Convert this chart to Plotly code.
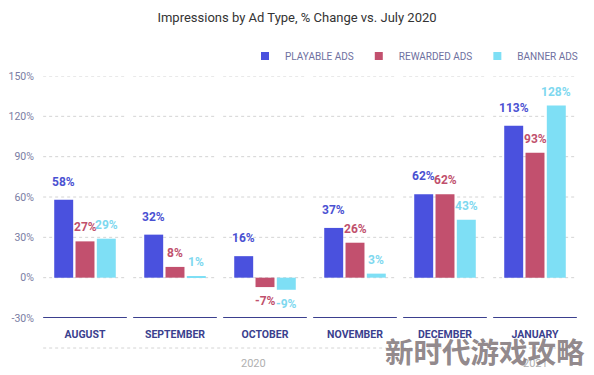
import plotly.graph_objects as go

months = ["AUGUST", "SEPTEMBER", "OCTOBER", "NOVEMBER", "DECEMBER", "JANUARY"]
playable = [58, 32, 16, 37, 62, 113]
rewarded = [27, 8, -7, 26, 62, 93]
banner = [29, 1, -9, 3, 43, 128]
series_names = ["PLAYABLE ADS", "REWARDED ADS", "BANNER ADS"]
y_ticks = [-30, 0, 30, 60, 90, 120, 150]
years = ["2020", "2021"]

bar_colors = ["#4a51de", "#c2506e", "#7edff5"]
text_colors = ["#4a51d2", "#c0506c", "#7ed8ef"]
label_shift = [9, 5, 5]
navy = "#3b3f8e"
BARGAP = 0.29
BARGROUPGAP = 0.11

# page body has an 8px margin: figure sits at (8, 8) in the window
OFF = 8
W, H = 594 - OFF, 375 - OFF
ML, MR, MT, MB = 40 - OFF, 14, 76 - OFF, 57
plot_w = W - ML - MR
plot_h = H - MT - MB

fig = go.Figure()
all_series = [playable, rewarded, banner]
for name, vals, col in zip(series_names, all_series, bar_colors):
    fig.add_trace(go.Bar(x=list(range(len(months))), y=vals, name=name,
                         marker=dict(color=col, line=dict(width=0)),
                         showlegend=False, hoverinfo="skip"))
# legend entries (small squares)
for name, col in zip(series_names, bar_colors):
    fig.add_trace(go.Scatter(x=[None], y=[None], mode="markers", name=name,
                             marker=dict(symbol="square", size=8, color=col)))

annotations = []
shapes = []
slot = (1 - BARGAP) / 3
for j, (vals, tcol) in enumerate(zip(all_series, text_colors)):
    for i, v in enumerate(vals):
        pos = v >= 0
        annotations.append(dict(
            x=i + (j - 1) * slot, y=v, xref="x", yref="y",
            text="<b>%d%%</b>" % v, showarrow=False,
            yanchor="bottom" if pos else "top",
            yshift=label_shift[j] if pos else -5,
            font=dict(size=12, color=tcol, family="Roboto")))

# per-category dotted grid segments and solid bottom underlines
for i in range(len(months)):
    for t in y_ticks:
        if t == y_ticks[0]:
            shapes.append(dict(type="line", xref="x", yref="y",
                               x0=i - 0.465, x1=i + 0.465, y0=t, y1=t,
                               line=dict(color=navy, width=2), layer="below"))
        else:
            shapes.append(dict(type="line", xref="x", yref="y",
                               x0=i - 0.465, x1=i + 0.465, y0=t, y1=t,
                               line=dict(color="#d4d4d4", width=1, dash="dot"),
                               layer="below"))

def py(ref_y):
    return (375 - MB - ref_y) / plot_h

def px(ref_x):
    return (ref_x - 40) / plot_w

# dotted line under category labels
shapes.append(dict(type="line", xref="x", yref="paper",
                   x0=-0.465, x1=len(months) - 1 + 0.465, y0=py(348), y1=py(348),
                   line=dict(color="#d4d4d4", width=1, dash="dot"), layer="below"))

annotations.append(dict(x=px(253), y=py(363), xref="paper", yref="paper", text=years[0],
                        showarrow=False, yanchor="middle",
                        font=dict(size=11, color="#b0b0b0", family="Roboto")))
annotations.append(dict(x=5, y=py(363), xref="x", yref="paper", text=years[1],
                        showarrow=False, yanchor="middle",
                        font=dict(size=11, color="#b0b0b0", family="Roboto")))

# watermark
annotations.append(dict(x=px(485), y=py(350), xref="paper", yref="paper",
                        text="<b>新时代游戏攻略</b>",
                        showarrow=False, xanchor="center", yanchor="middle",
                        font=dict(size=28.5, color="rgba(132,122,125,0.9)",
                                  family="Noto Sans CJK SC")))

fig.update_layout(
    width=W, height=H,
    margin=dict(l=ML, r=MR, t=MT, b=MB, autoexpand=False),
    paper_bgcolor="white", plot_bgcolor="white",
    barmode="group", bargap=BARGAP, bargroupgap=BARGROUPGAP,
    title=dict(text="Impressions by Ad Type, % Change vs. July 2020",
               x=0.5 - OFF / 2 / W, xanchor="center", y=1 - (17 - OFF) / H, yanchor="middle",
               font=dict(size=13, color="#333333", family="Roboto")),
    legend=dict(orientation="h", x=px(583), xanchor="right", y=py(56), yanchor="middle",
                font=dict(size=10, color="#6e70a0", family="Roboto"),
                itemwidth=30, bgcolor="rgba(0,0,0,0)"),
    xaxis=dict(tickmode="array", tickvals=list(range(len(months))),
               ticktext=["<b>%s</b>" % m for m in months],
               range=[-0.5, len(months) - 0.5], automargin=False,
               showgrid=False, zeroline=False, showline=False,
               ticks="outside", ticklen=6, tickcolor="rgba(0,0,0,0)",
               tickfont=dict(size=10.5, color=navy, family="Roboto")),
    yaxis=dict(range=[-30, 150], tickvals=y_ticks, automargin=False,
               ticktext=["%d%%" % t for t in y_ticks],
               showgrid=False, zeroline=False, showline=False,
               ticks="outside", ticklen=3, tickcolor="rgba(0,0,0,0)",
               tickfont=dict(size=10.5, color="#7a7ca3", family="Roboto")),
    annotations=annotations, shapes=shapes,
)

fig.write_html("out.html")
